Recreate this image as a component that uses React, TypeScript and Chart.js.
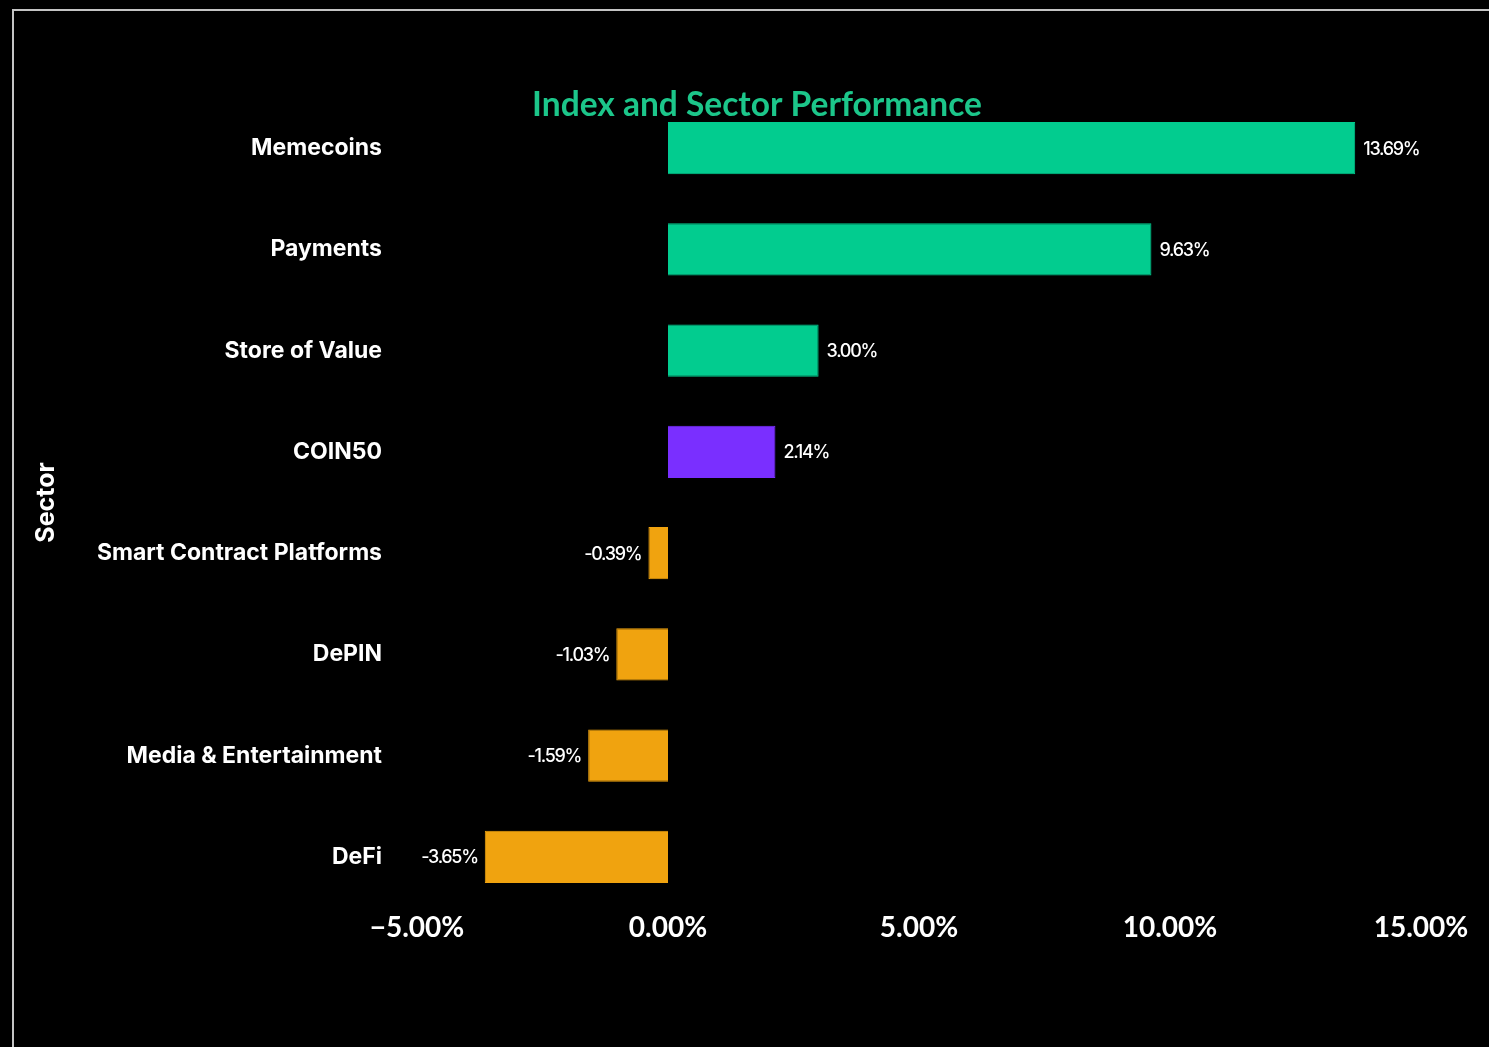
import React, { useEffect, useRef } from "react";
import { Chart, registerables } from "chart.js";

Chart.register(...registerables);

const categories = [
  "Memecoins",
  "Payments",
  "Store of Value",
  "COIN50",
  "Smart Contract Platforms",
  "DePIN",
  "Media & Entertainment",
  "DeFi",
];
const performance = [13.69, 9.63, 3.0, 2.14, -0.39, -1.03, -1.59, -3.65];
const indexCategory = "COIN50";
const xTicks = [-5, 0, 5, 10, 15];
const chartTitle = "Index and Sector Performance";
const yAxisTitle = "Sector";

const GREEN = "#02CC8F";
const PURPLE = "#7A2FFF";
const ORANGE = "#F0A30F";
const TITLE_GREEN = "#1CC68A";
const FONT = "Lato, 'Noto Sans', sans-serif";
const LABEL_FONT = "Inter, Lato, sans-serif";

const colorFor = (cat: string, v: number) =>
  cat === indexCategory ? PURPLE : v >= 0 ? GREEN : ORANGE;

export default function App() {
  const ref = useRef<HTMLCanvasElement | null>(null);

  useEffect(() => {
    if (!ref.current) return;
    const labelPlugin = {
      id: "valueLabels",
      afterDatasetsDraw(chart: any) {
        const { ctx } = chart;
        const meta = chart.getDatasetMeta(0);
        ctx.save();
        ctx.font = `500 18px ${LABEL_FONT}`;
        ctx.fillStyle = "#ffffff";
        ctx.textBaseline = "middle";
        try {
          (ctx as any).letterSpacing = "-1.3px";
        } catch (e) {}
        meta.data.forEach((bar: any, i: number) => {
          const v = performance[i];
          const txt = v.toFixed(2) + "%";
          if (v >= 0) {
            ctx.textAlign = "left";
            ctx.fillText(txt, bar.x + 8, bar.y + 1);
          } else {
            ctx.textAlign = "right";
            ctx.fillText(txt, bar.x - 7, bar.y + 1);
          }
        });
        ctx.restore();
      },
    };
    const titlePlugin = {
      id: "customTitle",
      afterDraw(chart: any) {
        const { ctx, width } = chart;
        ctx.save();
        ctx.font = `bold 33.5px ${FONT}`;
        ctx.fillStyle = TITLE_GREEN;
        ctx.textAlign = "center";
        ctx.textBaseline = "middle";
        ctx.fillText(chartTitle, width / 2, 93);
        ctx.restore();
      },
    };

    const chart = new Chart(ref.current, {
      type: "bar",
      data: {
        labels: categories,
        datasets: [
          {
            data: performance,
            backgroundColor: categories.map((c, i) => colorFor(c, performance[i])),
            borderColor: categories.map((c, i) => colorFor(c, performance[i])),
            borderWidth: 1,
            categoryPercentage: 1,
            barPercentage: 0.515,
          },
        ],
      },
      options: {
        indexAxis: "y",
        animation: false,
        responsive: true,
        maintainAspectRatio: false,
        layout: { padding: { left: 0, right: 78, top: 85.5, bottom: 79.5 } },
        plugins: {
          legend: { display: false },
          tooltip: { enabled: false },
          title: { display: false },
        },
        scales: {
          x: {
            type: "linear",
            min: -5,
            max: 15,
            afterBuildTicks: (scale: any) => {
              scale.ticks = xTicks.map((v) => ({ value: v }));
            },
            afterFit: (scale: any) => {
              scale.height = 60;
            },
            grid: { display: false, drawTicks: false },
            border: { display: false },
            ticks: {
              color: "#ffffff",
              padding: 4,
              maxRotation: 0,
              font: { family: FONT, size: 28, weight: "bold" },
              callback: (v: any) => {
                const n = Number(v);
                return (n < 0 ? "\u2212" : "") + Math.abs(n).toFixed(2) + "%";
              },
            },
          },
          y: {
            afterFit: (scale: any) => {
              scale.width = 402;
            },
            grid: { display: false, drawTicks: false },
            border: { display: false },
            title: {
              display: true,
              text: yAxisTitle,
              color: "#ffffff",
              font: { family: LABEL_FONT, size: 25, weight: "bold" },
              padding: { top: 16, bottom: 0 },
            },
            ticks: {
              color: "#ffffff",
              padding: 35,
              font: { family: LABEL_FONT, size: 23, weight: "bold" },
            },
          },
        },
      },
      plugins: [labelPlugin, titlePlugin],
    } as any);
    return () => chart.destroy();
  }, []);

  return (
    <div
      style={{
        position: "fixed",
        left: 0,
        top: 0,
        width: 1489,
        height: 1047,
        background: "#000",
        overflow: "hidden",
      }}
    >
      <div
        style={{
          position: "absolute",
          left: 12,
          top: 9,
          width: 1600,
          height: 1200,
          border: "2px solid #c4c4c4",
          boxSizing: "border-box",
        }}
      />
      <div
        style={{
          position: "absolute",
          left: 15,
          top: 12,
          width: 1484,
          height: 1035,
        }}
      >
        <canvas ref={ref} />
      </div>
    </div>
  );
}
